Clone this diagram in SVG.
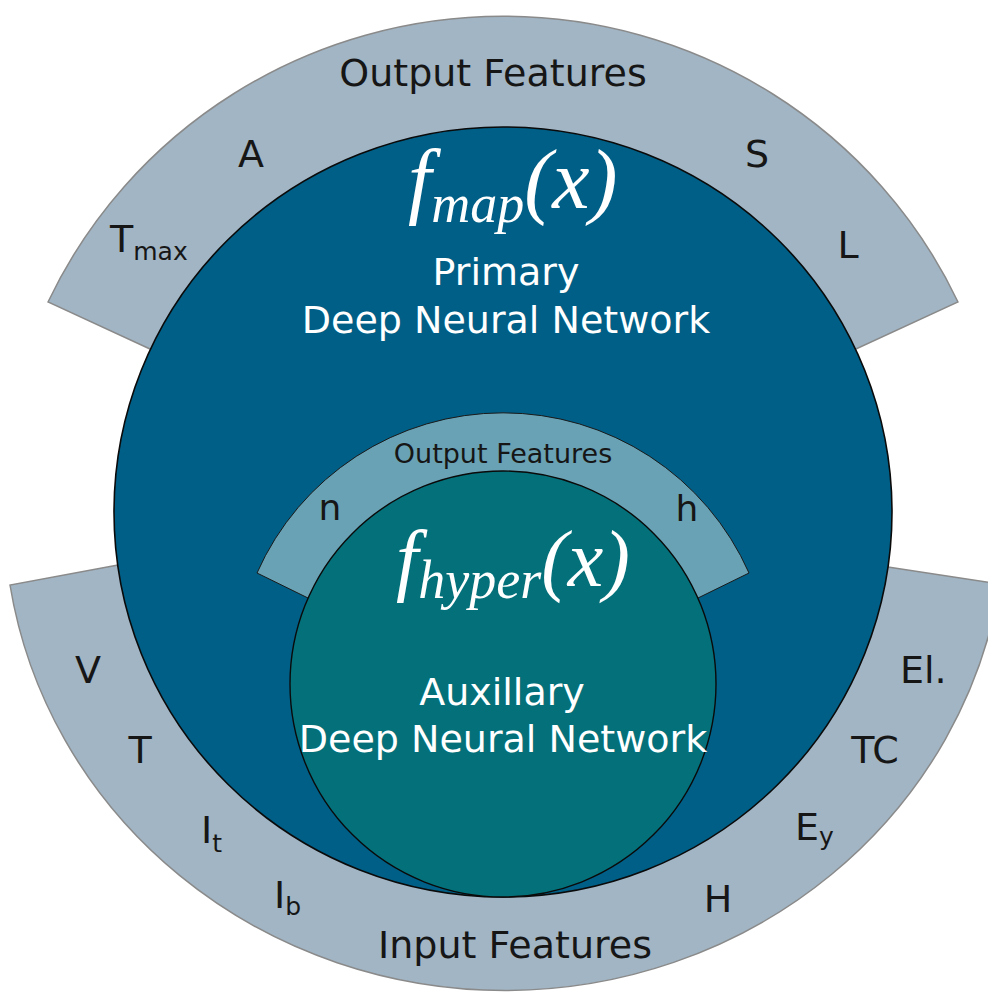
<svg xmlns="http://www.w3.org/2000/svg" width="988" height="998" viewBox="0 0 988 998">
<defs>
<style>
.ring{fill:#a1b5c4;stroke:#8a8a8a;stroke-width:1.5}
.primary{fill:#005f86;stroke:#0a0a0a;stroke-width:1.6}
.sring{fill:#69a2b4;stroke:#1a1a1a;stroke-width:1}
.aux{fill:#04717a;stroke:#0a0a0a;stroke-width:1.4}
.lbl{font-family:"DejaVu Sans","Verdana",sans-serif;font-size:38px;fill:#161616}
.sub{font-size:25px}
.wht{font-family:"DejaVu Sans","Verdana",sans-serif;font-size:38px;fill:#ffffff;text-anchor:middle}
.math{font-family:"Liberation Serif","Times New Roman",serif;font-style:italic;fill:#ffffff}
.mid{text-anchor:middle}
</style>
</defs>
<rect width="988" height="998" fill="#ffffff"/>
<g id="output-ring">
<path class="ring" d="M150,349 L48,302 A503,498 0 0 1 958,302 L856,349 Z"/>
<text class="lbl mid" x="493" y="86">Output Features</text>
<text class="lbl mid" x="251" y="167">A</text>
<text class="lbl mid" x="757" y="167">S</text>
<text class="lbl" x="110" y="252">T<tspan class="sub" dy="8">max</tspan></text>
<text class="lbl mid" x="848" y="258">L</text>
</g>
<g id="input-ring">
<path class="ring" d="M118,565 L10,585 A501,480 0 0 0 1000,584 L888,567 Z"/>
<text class="lbl mid" x="515" y="958">Input Features</text>
<text class="lbl mid" x="88" y="683">V</text>
<text class="lbl mid" x="140" y="763">T</text>
<text class="lbl" x="201" y="843">I<tspan class="sub" dy="9">t</tspan></text>
<text class="lbl" x="274" y="908">I<tspan class="sub" dy="7">b</tspan></text>
<text class="lbl" x="900" y="683">El.</text>
<text class="lbl mid" x="875" y="763">TC</text>
<text class="lbl" x="795" y="840">E<tspan class="sub" dy="5">y</tspan></text>
<text class="lbl mid" x="718" y="912">H</text>
</g>
<g id="primary-dnn">
<ellipse class="primary" cx="503" cy="512" rx="389" ry="385"/>
<text class="math" x="408" y="208"><tspan font-size="84">f</tspan><tspan font-size="54" dy="14">map</tspan><tspan font-size="84" dy="-14">(x)</tspan></text>
<text class="wht" x="506" y="285">Primary</text>
<text class="wht" x="506" y="333">Deep Neural Network</text>
</g>
<g id="aux-output-ring">
<path class="sring" d="M308,598 L257,573 A269,269 0 0 1 749,573 L698,598 Z"/>
<text class="lbl mid" x="503" y="463" style="font-size:27px">Output Features</text>
<text class="lbl mid" x="330" y="520" style="font-size:36px">n</text>
<text class="lbl mid" x="687" y="521" style="font-size:36px">h</text>
</g>
<g id="auxiliary-dnn">
<circle class="aux" cx="503" cy="684" r="213"/>
<text class="math" x="396" y="586"><tspan font-size="80">f</tspan><tspan font-size="54" dy="12">hyper</tspan><tspan font-size="80" dy="-12">(x)</tspan></text>
<text class="wht" x="502" y="705">Auxillary</text>
<text class="wht" x="503" y="752">Deep Neural Network</text>
</g>
<g id="connectors"/>
</svg>
